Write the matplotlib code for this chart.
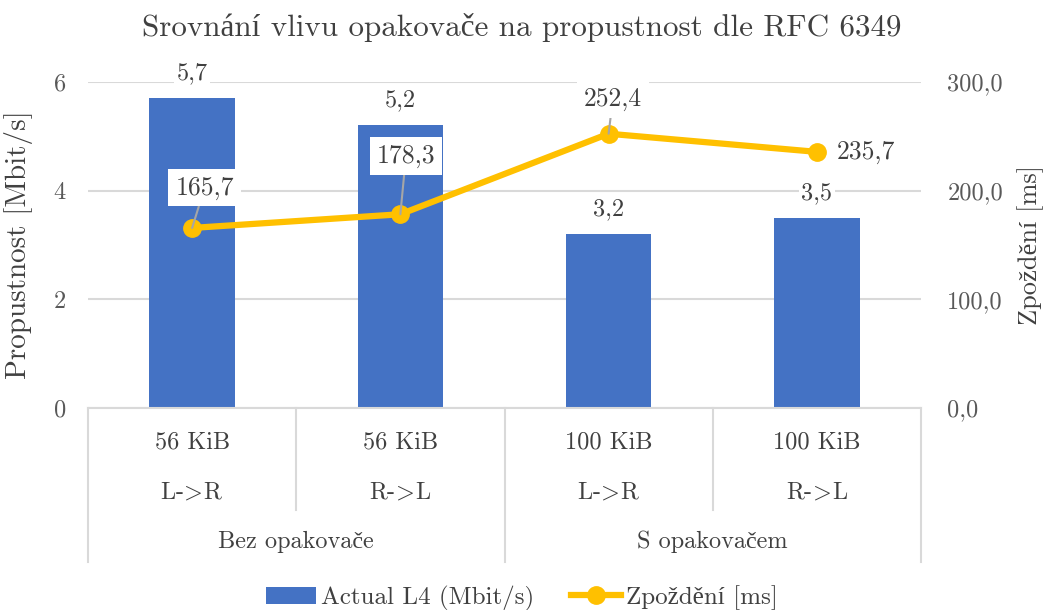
import matplotlib.pyplot as plt
import matplotlib.transforms as mtransforms
from matplotlib.lines import Line2D
from matplotlib.patches import Patch

# cmr10 lacks the Czech letters; those fall back to a light serif
plt.rcParams["font.family"] = ["cmr10", "Liberation Serif"]
plt.rcParams["mathtext.fontset"] = "cm"

sizes = ["56 KiB", "56 KiB", "100 KiB", "100 KiB"]
directions = ["L->R", "R->L", "L->R", "R->L"]
groups = ["Bez opakovače", "S opakovačem"]
throughput = [5.7, 5.2, 3.2, 3.5]
delay = [165.7, 178.3, 252.4, 235.7]

BLUE = "#4472C4"
GOLD = "#FFC000"
TEXT = "#404040"
TICK = "#595959"
GRID = "#D9D9D9"
FS = 17.5


def arrow_text(s):
    # cmr10 puts an inverted question mark on ">", take it from math instead
    return s.replace(">", r"$\!>\!$")


def fmt(v, nd=1):
    return f"{v:.{nd}f}".replace(".", ",")


W, H = 1044, 610
fig = plt.figure(figsize=(W / 100, H / 100), dpi=100)
ax_w = 921 - 88
ax = fig.add_axes([88 / W, 1 - 408 / H, ax_w / W, 326 / H])
ax2 = ax.twinx()

x = list(range(len(throughput)))
ax.bar(x, throughput, width=0.41, color=BLUE, zorder=2)
ax.set_xlim(-0.5, 3.5)
ax.set_ylim(0, 6)
ax.set_yticks([0, 2, 4, 6])
ax.set_yticklabels(["0", "2", "4", "6"])
ax.yaxis.grid(True, color=GRID, linewidth=1.5, zorder=0)
ax.set_axisbelow(True)
ax.set_xticks([])
for s in list(ax.spines.values()) + list(ax2.spines.values()):
    s.set_visible(False)
ax.tick_params(axis="y", length=0, labelsize=FS, labelcolor=TICK, pad=16)
ax.set_ylabel("Propustnost [Mbit/s]", fontsize=21, color=TEXT)
ax.yaxis.set_label_coords(-55 / ax_w, 0.5)

ax2.set_ylim(0, 300)
ax2.set_yticks([0, 100, 200, 300])
ax2.set_yticklabels([fmt(v) for v in [0, 100, 200, 300]])
ax2.tick_params(axis="y", length=0, labelsize=FS, labelcolor=TICK, pad=19)
ax2.set_ylabel("Zpoždění [ms]", fontsize=19, color=TEXT, rotation=90)
ax2.yaxis.set_label_coords(1 + 96 / ax_w, 0.5)
ax2.plot(x, delay, color=GOLD, linewidth=4.5, marker="o", markersize=12.5,
         solid_capstyle="round", zorder=3)

# bar value labels on a white patch so they cut the gridlines
box = dict(facecolor="white", edgecolor="none", pad=2)
for xi, v in zip(x, throughput):
    ax.annotate(fmt(v), (xi, v), xytext=(0, 10), textcoords="offset points",
                ha="center", va="bottom", fontsize=FS, color=TEXT, bbox=box,
                zorder=5)

# delay labels, the first three pulled up with a leader line
offsets = [(9, 29), (4, 42), (3, 25)]
for xi, v, (dx, dy) in zip(x, delay, offsets):
    ax2.annotate(fmt(v), (xi, v), xytext=(dx, dy), textcoords="offset points",
                 ha="center", va="center", fontsize=18.5, color=TEXT,
                 bbox=dict(facecolor="white", edgecolor="none", pad=5),
                 arrowprops=dict(arrowstyle="-", color="#A6A6A6", lw=1.5,
                                 shrinkA=0, shrinkB=0),
                 zorder=6)
ax2.annotate(fmt(delay[3]), (x[3], delay[3]), xytext=(14, 0),
             textcoords="offset points", ha="left", va="center", fontsize=18.5,
             color=TEXT, bbox=box, zorder=6)

# two-level category axis under the plot
trans = mtransforms.blended_transform_factory(ax.transData, ax.transAxes)
ax_h = 326.0
line_kw = dict(color=GRID, linewidth=1.5, transform=trans, clip_on=False)
ax.add_line(Line2D([-0.5, 3.5], [0, 0], **line_kw))
for b in [-0.5, 1.5, 3.5]:
    ax.add_line(Line2D([b, b], [0, -154 / ax_h], **line_kw))
for b in [0.5, 2.5]:
    ax.add_line(Line2D([b, b], [0, -102 / ax_h], **line_kw))
for xi, s, d in zip(x, sizes, directions):
    ax.text(xi, -34 / ax_h, s, transform=trans, ha="center", va="center",
            fontsize=FS, color=TEXT)
    ax.text(xi, -84 / ax_h, arrow_text(d), transform=trans, ha="center",
            va="center", fontsize=FS, color=TEXT)
for gi, g in enumerate(groups):
    ax.text(gi * 2 + 0.5, -134 / ax_h, g, transform=trans, ha="center",
            va="center", fontsize=FS, color=TEXT)

fig.text(0.5, 1 - 28 / H, "Srovnání vlivu opakovače na propustnost dle RFC 6349",
         ha="center", va="center", fontsize=22.4, color=TEXT)

handles = [Patch(facecolor=BLUE, edgecolor="none"),
           Line2D([], [], color=GOLD, linewidth=4.5, marker="o", markersize=12.5)]
fig.legend(handles, ["Actual L4 (Mbit/s)", "Zpoždění [ms]"], loc="center",
           bbox_to_anchor=(0.5, 1 - 598 / H), ncol=2, frameon=False, fontsize=18,
           labelcolor=TEXT, handlelength=2.0, handletextpad=0.2,
           columnspacing=1.5)

fig.savefig("out.png", dpi=100)
